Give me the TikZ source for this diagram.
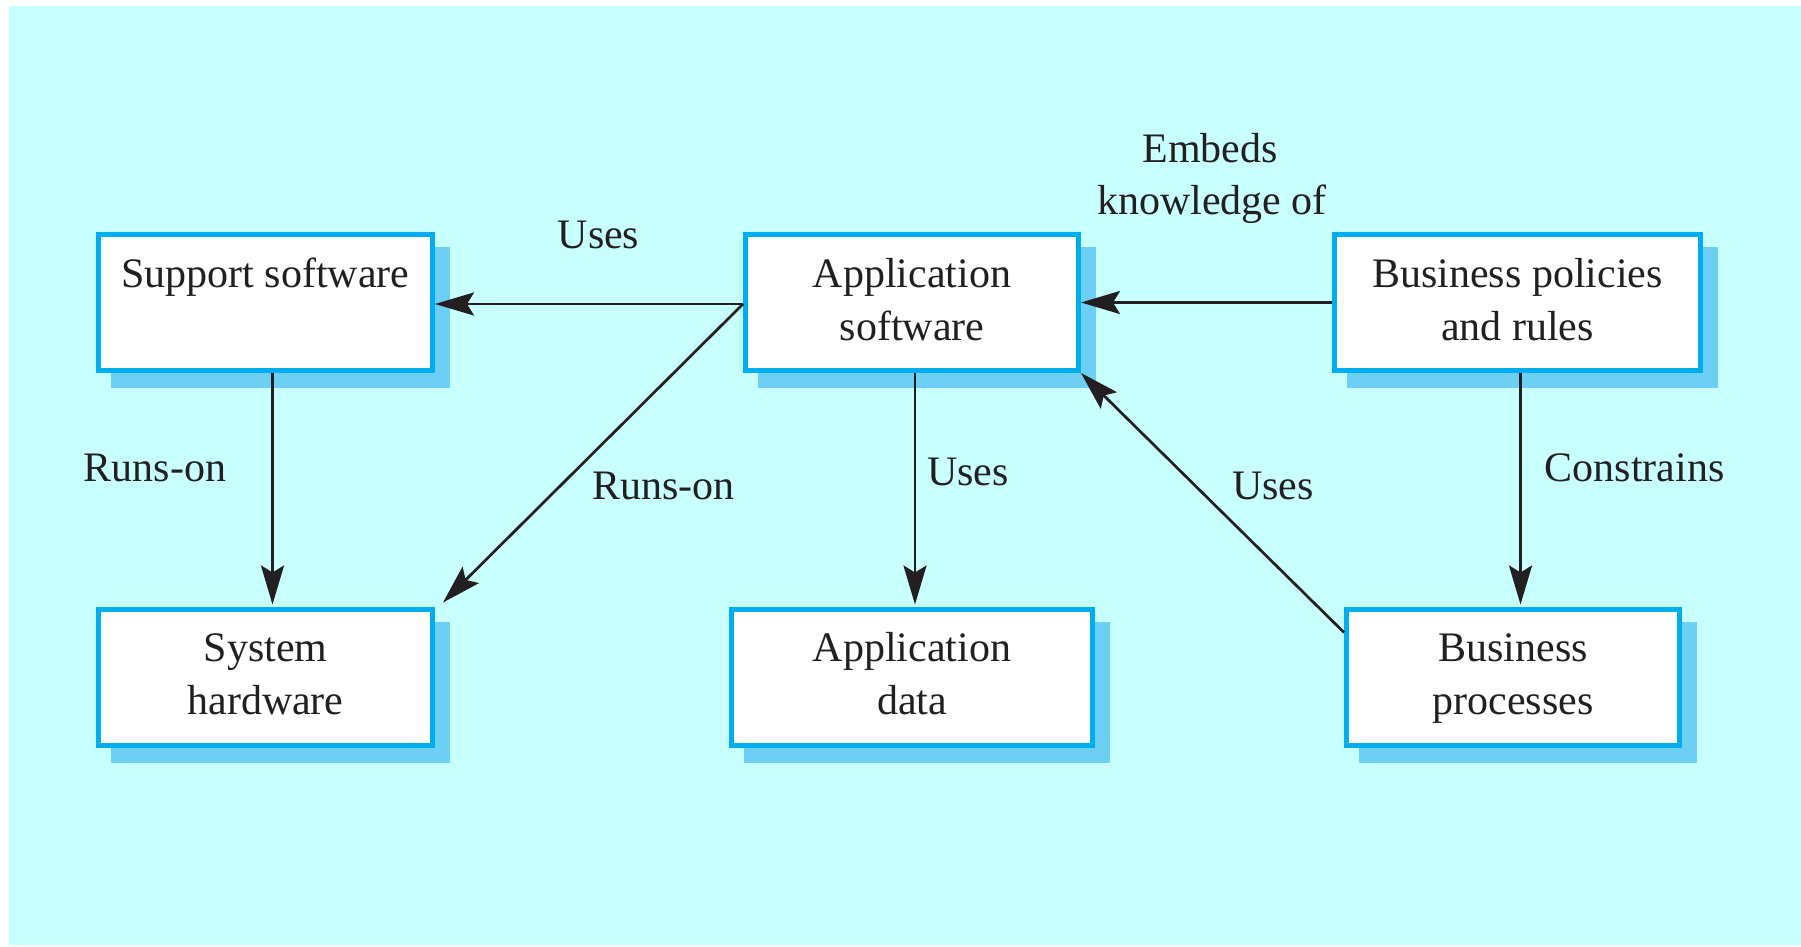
\documentclass[tikz,border=0pt]{standalone}
\usepackage{fontspec}
\setmainfont{Liberation Serif}
\usetikzlibrary{arrows.meta,backgrounds}
\definecolor{bgcol}{RGB}{200,255,255}
\definecolor{shadowcol}{RGB}{110,207,245}
\definecolor{bordercol}{RGB}{0,174,239}
\definecolor{txtcol}{RGB}{35,31,32}
\tikzset{
  boxnode/.style={rectangle, draw=bordercol, line width=5pt, fill=white, inner sep=0pt, minimum height=136pt},
  txt/.style={anchor=base, inner sep=0pt, text=txtcol, font=\fontsize{42pt}{53pt}\selectfont},
  conn/.style={draw=txtcol, line width=2.7pt, -{Stealth[length=39pt,width=23pt,inset=7pt]}},
  boxshadow/.style={fill=shadowcol}
}
\begin{document}
\begin{tikzpicture}[x=1pt,y=-1pt]
\useasboundingbox (0,0) rectangle (1801,947);

% boxes
\node[boxnode, minimum width=334pt] (ss)  at (265.5,302.5) {};
\node[boxnode, minimum width=334pt] (sh)  at (265.5,677) {};
\node[boxnode, minimum width=333pt] (as)  at (912,302.5) {};
\node[boxnode, minimum width=361pt] (ad)  at (912,677) {};
\node[boxnode, minimum width=366pt] (bpr) at (1517.5,302.5) {};
\node[boxnode, minimum width=333pt] (bp)  at (1513,677) {};

% background and shadows
\begin{scope}[on background layer]
  \fill[bgcol] (9,6) rectangle (1801,945);
  \foreach \b in {ss,sh,as,ad,bpr,bp}{
    \fill[boxshadow] ([shift={(15,15)}]\b.south west) rectangle ([shift={(15,15)}]\b.north east);
  }
\end{scope}

% box texts
\node[txt] (ss-t1)  at ([yshift=-55pt]ss.north) {Support software};
\node[txt] (sh-t1)  at ([yshift=-55pt]sh.north) {System};
\node[txt] (sh-t2)  at ([yshift=-108pt]sh.north) {hardware};
\node[txt] (as-t1)  at ([yshift=-55pt]as.north) {Application};
\node[txt] (as-t2)  at ([yshift=-108pt]as.north) {software};
\node[txt] (ad-t1)  at ([yshift=-55pt]ad.north) {Application};
\node[txt] (ad-t2)  at ([yshift=-108pt]ad.north) {data};
\node[txt] (bpr-t1) at ([yshift=-55pt]bpr.north) {Business policies};
\node[txt] (bpr-t2) at ([yshift=-108pt]bpr.north) {and rules};
\node[txt] (bp-t1)  at ([yshift=-55pt]bp.north) {Business};
\node[txt] (bp-t2)  at ([yshift=-108pt]bp.north) {processes};

% connectors
\draw[conn] ([yshift=-1.5pt]as.west) -- ([yshift=-1.5pt]ss.east);
\draw[conn] ([yshift=-1.5pt]as.west) -- ([xshift=8pt,yshift=4pt]sh.north east);
\draw[conn, shorten >=2pt] ([xshift=7pt]ss.south) -- ([xshift=7pt]sh.north);
\draw[conn, shorten >=2pt] ([xshift=3pt]as.south) -- ([xshift=3pt]ad.north);
\draw[conn] (bpr.west) -- (as.east);
\draw[conn] ([yshift=-26pt]bp.north west) -- (as.south east);
\draw[conn, shorten >=2pt] ([xshift=3pt]bpr.south) -- ([xshift=7.5pt]bp.north);

% connector labels
\node[txt] (l-uses1) at (598.5,248) {Uses};
\node[txt] (l-runs2) at (663.5,499) {Runs-on};
\node[txt] (l-runs1) at (155,481) {Runs-on};
\node[txt] (l-uses2) at (968,485.5) {Uses};
\node[txt] (l-uses3) at (1273,499) {Uses};
\node[txt] (l-cons)  at (1634.5,481) {Constrains};
\node[txt] (l-emb1)  at (1210,162) {Embeds};
\node[txt] (l-emb2)  at (1212,214) {knowledge of};
\end{tikzpicture}
\end{document}
